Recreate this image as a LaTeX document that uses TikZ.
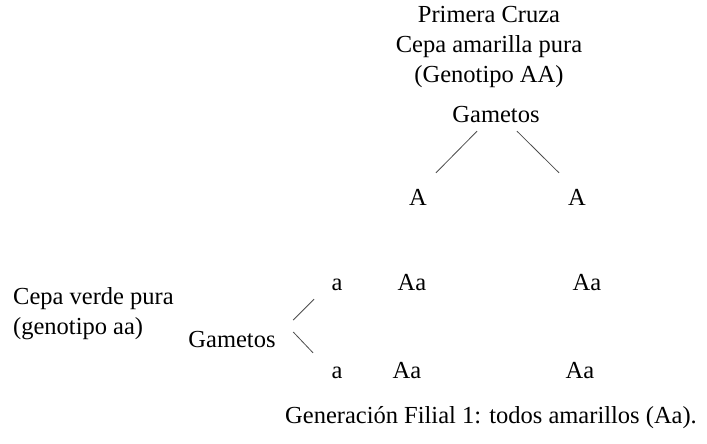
\documentclass[tikz,border=0pt]{standalone}
\usepackage{fontspec}
\setmainfont{Liberation Serif}
\begin{document}
\begin{tikzpicture}[x=1pt, y=-1pt,
  every node/.style={inner sep=0pt, font=\fontsize{24.5}{30}\selectfont},
  gen/.style={text height=18pt, text depth=4pt},
  rama/.style={draw=black!70, line width=0.8pt}]
\useasboundingbox (0,0) rectangle (707,444);
% Nodes
\node[align=center] (cruza) at (489,47) {Primera Cruza\\Cepa amarilla pura\\(Genotipo AA)};
\node[gen] (gamA) at (496,115) {Gametos};
\node[gen] (A1) at (418,198) {A};
\node[gen] (A2) at (577,198) {A};

\node[align=left, anchor=west] (verde) at (13,314) {Cepa verde pura\\(genotipo aa)};
\node[gen] (gamB) at (232,340) {Gametos};
\node[gen] (a1) at (337,283) {a};
\node[gen] (a2) at (337,371) {a};

\node[gen] (Aa11) at (412,283) {Aa};
\node[gen] (Aa12) at (587,283) {Aa};
\node[gen] (Aa21) at (407,371) {Aa};
\node[gen] (Aa22) at (580,371) {Aa};

\node (filial) at (491,418) {Generación Filial 1: todos amarillos (Aa).};

% Lines
\draw[rama] ([shift={(-19,5)}]gamA.south) -- ([shift={(18,-14)}]A1.north);
\draw[rama] ([shift={(21,5)}]gamA.south) -- ([shift={(-18,-14)}]A2.north);
\draw[rama] ([shift={(17.5,-20)}]gamB.east) -- ([shift={(-23,5)}]a1.south);
\draw[rama] ([shift={(17.5,-8)}]gamB.east) -- ([shift={(-24,-7)}]a2.north);

\end{tikzpicture}
\end{document}
